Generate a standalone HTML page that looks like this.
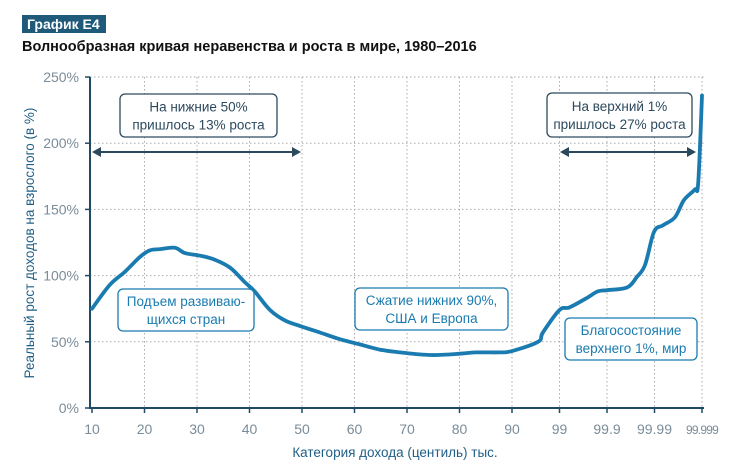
<!DOCTYPE html>
<html><head><meta charset="utf-8"><style>
body{margin:0;background:#fff;font-family:"Liberation Sans",sans-serif}
svg text{font-family:"Liberation Sans",sans-serif}
</style></head><body>
<svg width="730" height="469" viewBox="0 0 730 469">
<rect x="22" y="15" width="84" height="18" fill="#1f5a7a"/>
<text x="27" y="29" font-size="14" font-weight="bold" fill="#fff">График E4</text>
<text x="22" y="51" font-size="14.5" font-weight="bold" fill="#111">Волнообразная кривая неравенства и роста в мире, 1980–2016</text>
<g id="grid"></g>
<g id="axes"></g>
<path id="curve" fill="none" stroke="#1a7bb0" stroke-width="3.8" stroke-linejoin="round" stroke-linecap="round"/>
<g id="ann"></g>
<text transform="translate(34,243) rotate(-90)" text-anchor="middle" font-size="13.5" fill="#1f5f86">Реальный рост доходов на взрослого (в %)</text>
<text x="395" y="457" text-anchor="middle" font-size="13.5" fill="#1f5f86">Категория дохода (центиль) тыс.</text>
</svg>
<script>
const xLabels=["10","20","30","40","50","60","70","80","90","99","99.9","99.99","99.999"];
const yTicks=[0,50,100,150,200,250];
const curveX=[0,.34,.63,.91,1.1,1.3,1.58,1.77,2.06,2.34,2.63,2.91,3.1,3.39,3.68,3.96,4.34,4.72,5.1,5.49,5.87,6.44,7.01,7.3,7.77,8,8.55,8.65,9,9.21,9.57,9.8,10,10.42,10.63,10.8,10.99,11.18,11.43,11.62,11.85,11.92,12];
const curveY=[75,93,103,114,119,120,121,117,115,112,106,95,88,74,66,62,57,52,48,44,42,40,41,42,42,43,50,57,74,76,83,88,89,91,99,108,133,138,144,157,165,170,236];
const NS="http://www.w3.org/2000/svg";
function X(i){return i<=8?92+i*52.5:512+(i-8)*47.5;}
function Y(v){return 408-v*331/250;}
function mk(t,a,p){const e=document.createElementNS(NS,t);for(const k in a)e.setAttribute(k,a[k]);p.appendChild(e);return e;}
const g=document.getElementById('grid'),ax=document.getElementById('axes'),an=document.getElementById('ann');
yTicks.forEach(v=>{
 if(v>0){const l=mk('line',{x1:90,x2:704,y1:Y(v),y2:Y(v),stroke:'#aaa','stroke-dasharray':'1.5 2.5'},g);
 }
 const tk=mk('line',{x1:85,x2:90,y1:Y(v),y2:Y(v),stroke:'#1f4a66','stroke-width':1.5},ax);
 
 const t=mk('text',{x:79,y:Y(v)+5,'text-anchor':'end','font-size':14,fill:'#7a8c99'},ax);t.textContent=v+'%';
 
});
xLabels.forEach((s,i)=>{
 if(i>0){const l=mk('line',{x1:X(i),x2:X(i),y1:Y(250),y2:408,stroke:'#aaa','stroke-dasharray':'1.5 2.5'},g);
 }
 const tk=mk('line',{x1:X(i),x2:X(i),y1:408,y2:413,stroke:'#1f4a66','stroke-width':1.5},ax);
 
 const t=mk('text',{x:X(i),y:434,'text-anchor':'middle','font-size':i==12?12:14,fill:'#7a8c99','letter-spacing':i==12?-0.8:0},ax);t.textContent=s;
 
});
let a=mk('line',{x1:90,x2:90,y1:Y(250),y2:409,stroke:'#1f4a66','stroke-width':2},ax);

a=mk('line',{x1:89,x2:704,y1:408,y2:408,stroke:'#1f4a66','stroke-width':2},ax);

const P=curveX.map((x,i)=>[X(x),Y(curveY[i])]);
let d='M'+P[0][0].toFixed(1)+','+P[0][1].toFixed(1);
for(let i=0;i<P.length-1;i++){
 const p0=P[Math.max(0,i-1)],p1=P[i],p2=P[i+1],p3=P[Math.min(P.length-1,i+2)];
 const t=1/6;
 const c1=[p1[0]+(p2[0]-p0[0])*t,p1[1]+(p2[1]-p0[1])*t];
 const c2=[p2[0]-(p3[0]-p1[0])*t,p2[1]-(p3[1]-p1[1])*t];
 d+=`C${c1[0].toFixed(1)},${c1[1].toFixed(1)} ${c2[0].toFixed(1)},${c2[1].toFixed(1)} ${p2[0].toFixed(1)},${p2[1].toFixed(1)}`;
}
document.getElementById('curve').setAttribute('d',d);
function box(x,y,w,h,l1,l2,stroke,name){
 const r=mk('rect',{x:x,y:y,width:w,height:h,rx:5,fill:'#fff',stroke:stroke,'stroke-width':1.3},an);
 
 [l1,l2].forEach((s,k)=>{const t=mk('text',{x:x+w/2,y:y+h/2-4+k*18,'text-anchor':'middle','font-size':13.5,fill:stroke},an);t.textContent=s;
 });
}
box(120,94,157,43,'На нижние 50%','пришлось 13% роста','#2c4a5e','bottom-50');
box(547,93,145,44,'На верхний 1%','пришлось 27% роста','#2c4a5e','top-1');
box(118,289,136,42,'Подъем развиваю-','щихся стран','#1a7bb0','emerging');
box(355,288,153,42,'Сжатие нижних 90%,','США и Европа','#1a7bb0','squeeze');
box(565,318,132,42,'Благосостояние','верхнего 1%, мир','#1a7bb0','top-wealth');
function arrow(x1,x2,y,name){
 const l=mk('line',{x1:x1+6,x2:x2-6,y1:y,y2:y,stroke:'#2c4a5e','stroke-width':2},an);
 
 mk('path',{d:`M${x1},${y}l9,-5v10z M${x2},${y}l-9,-5v10z`,fill:'#2c4a5e'},an);
}
arrow(92,301,152,'bottom-50-arrow');
arrow(560,696,152,'top-1-arrow');
</script>
</body></html>
